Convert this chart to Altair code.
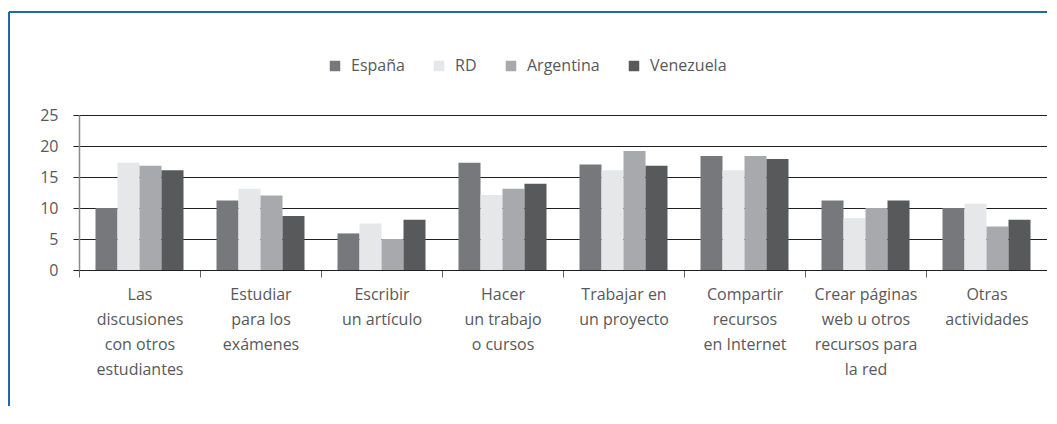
import altair as alt
import pandas as pd

categories = [
    "Las|discusiones|con otros|estudiantes",
    "Estudiar|para los|exámenes",
    "Escribir|un artículo",
    "Hacer|un trabajo|o cursos",
    "Trabajar en|un proyecto",
    "Compartir|recursos|en Internet",
    "Crear páginas|web u otros|recursos para|la red",
    "Otras|actividades",
]
series = ["España", "RD", "Argentina", "Venezuela"]
espana = [10.0, 11.2, 5.9, 17.3, 17.0, 18.4, 11.2, 10.0]
rd = [17.3, 13.1, 7.5, 12.1, 16.1, 16.1, 8.4, 10.7]
argentina = [16.8, 12.0, 5.0, 13.1, 19.2, 18.4, 10.0, 7.0]
venezuela = [16.1, 8.7, 8.1, 13.9, 16.8, 17.9, 11.2, 8.1]
colors = ["#77787b", "#e6e7e8", "#a7a9ac", "#58595b"]
y_ticks = [0, 5, 10, 15, 20, 25]

rows = []
for name, vals in zip(series, [espana, rd, argentina, venezuela]):
    for c, v in zip(categories, vals):
        rows.append({"cat": c, "pais": name, "valor": v})
df = pd.DataFrame(rows)

FONT = "Open Sans"
TXT = "#58595b"

bars = alt.Chart(df).mark_bar().encode(
    x=alt.X(
        "cat:N",
        sort=categories,
        title=None,
        scale=alt.Scale(paddingInner=0, paddingOuter=0),
        axis=alt.Axis(
            labelAngle=0,
            labelExpr="split(datum.label, '|')",
            labelLineHeight=25,
            labelFontSize=16,
            labelFont=FONT,
            labelColor=TXT,
            labelBaseline="top",
            labelPadding=9,
            tickBand="extent",
            tickSize=7,
            tickColor="#666666",
            domainColor="#231f20",
            domainWidth=1.2,
            labelLimit=200,
        ),
    ),
    xOffset=alt.XOffset(
        "pais:N", sort=series, scale=alt.Scale(paddingInner=0, paddingOuter=0.75)
    ),
    y=alt.Y(
        "valor:Q",
        title=None,
        scale=alt.Scale(domain=[0, 25], nice=False),
        axis=alt.Axis(
            values=y_ticks,
            labelFontSize=16,
            labelFont=FONT,
            labelColor=TXT,
            labelPadding=15,
            tickSize=6,
            tickColor="#231f20",
            domainColor="#8a8a8a",
            domainWidth=1.5,
            gridColor="#231f20",
            gridWidth=1,
        ),
    ),
    color=alt.Color(
        "pais:N",
        sort=series,
        scale=alt.Scale(domain=series, range=colors),
        legend=alt.Legend(
            title=None,
            orient="none",
            direction="horizontal",
            legendX=248,
            legendY=-57,
            symbolType="square",
            symbolSize=110,
            symbolStrokeWidth=0,
            labelFontSize=16,
            labelFont=FONT,
            labelColor=TXT,
            labelOffset=8,
            columnPadding=26,
        ),
    ),
)

frame_data = alt.Data(values=[{}])
frame_left = alt.Chart(frame_data).mark_rule(
    stroke="#1f6aa8", strokeWidth=2
).encode(x=alt.value(-70), y=alt.value(-103), y2=alt.value(400))
frame_top = alt.Chart(frame_data).mark_rule(
    stroke="#1f6aa8", strokeWidth=2
).encode(y=alt.value(-103), x=alt.value(-70), x2=alt.value(1000))

chart = alt.layer(frame_left, frame_top, bars).properties(
    width=968,
    height=155,
    autosize=alt.AutoSizeParams(type="none"),
    padding={"left": 71, "top": 107, "right": 0, "bottom": 136},
).configure_view(stroke=None)

chart.save("out.html", embed_options={"renderer": "svg", "actions": False})
